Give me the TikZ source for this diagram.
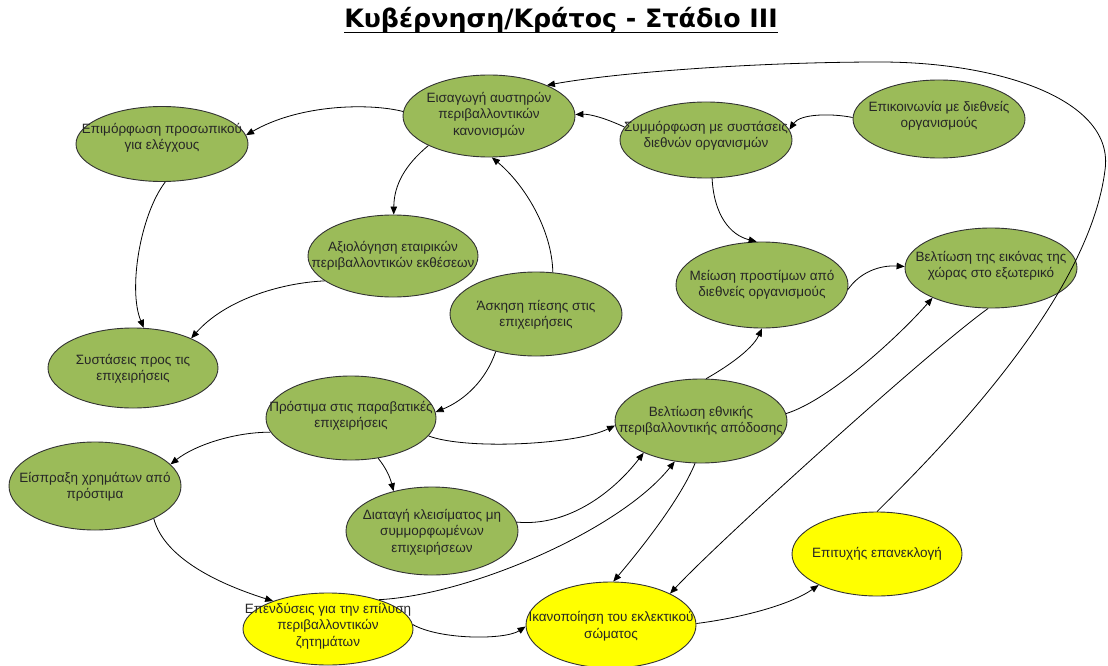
\documentclass[tikz,border=0pt]{standalone}
\usepackage{fontspec}
\setmainfont{Liberation Sans}
\newfontfamily\headfont{DejaVu Sans}
\usetikzlibrary{arrows.meta,shapes.geometric}
\definecolor{leaf}{RGB}{155,187,89}
\definecolor{sun}{RGB}{255,255,0}
\begin{document}
\begin{tikzpicture}[x=1pt,y=-1pt,
  bub/.style={ellipse, draw=black!80, line width=0.9pt, inner sep=0pt},
  gbub/.style={bub, fill=leaf},
  ybub/.style={bub, fill=sun},
  sz/.style 2 args={minimum width=#1pt, minimum height=#2pt},
  txt/.style={align=center, inner sep=0pt, text=black!85,
    font=\fontsize{13.5}{16.5}\selectfont},
  link/.style={line width=0.8pt, -{Triangle[length=8pt,width=6.5pt]}},
]
\useasboundingbox (0,0) rectangle (1108,666);
\fill[white] (0,0) rectangle (1108,666);

% title
\node[anchor=base, inner sep=0pt, font=\headfont\bfseries\fontsize{25.3}{30}\selectfont] (title) at (561,28) {Κυβέρνηση/Κράτος - Στάδιο III};
\draw[line width=1.8pt] ([yshift=-4.5pt]title.base west) -- ([yshift=-4.5pt]title.base east);

% green bubbles
\node[gbub,sz={172}{82}] (eisag) at (489,116) {};
\node[txt] (eisag-t) at (489,115) {Εισαγωγή αυστηρών\\περιβαλλοντικών\\κανονισμών};
\node[gbub,sz={172}{75}] (epim) at (162,144) {};
\node[txt] (epim-t) at (162,138) {Επιμόρφωση προσωπικού\\για ελέγχους};
\node[gbub,sz={170}{82}] (axiol) at (393,256) {};
\node[txt] (axiol-t) at (393,256) {Αξιολόγηση εταιρικών\\περιβαλλοντικών εκθέσεων};
\node[gbub,sz={170}{80}] (syst) at (133,368) {};
\node[txt] (syst-t) at (133,369) {Συστάσεις προς τις\\επιχειρήσεις};
\node[gbub,sz={172}{84}] (askisi) at (536,314) {};
\node[txt] (askisi-t) at (536,315) {Άσκηση πίεσης στις\\επιχειρήσεις};
\node[gbub,sz={172}{76}] (symm) at (706,140) {};
\node[txt] (symm-t) at (706,136) {Συμμόρφωση με συστάσεις\\διεθνών οργανισμών};
\node[gbub,sz={172}{78}] (epik) at (939,119) {};
\node[txt] (epik-t) at (939,116) {Επικοινωνία με διεθνείς\\οργανισμούς};
\node[gbub,sz={172}{86}] (meiosi) at (762,285) {};
\node[txt] (meiosi-t) at (762,285) {Μείωση προστίμων από\\διεθνείς οργανισμούς};
\node[gbub,sz={172}{80}] (veltikon) at (991,268) {};
\node[txt] (veltikon-t) at (991,266) {Βελτίωση της εικόνας της\\χώρας στο εξωτερικό};
\node[gbub,sz={170}{84}] (prost) at (351,418) {};
\node[txt] (prost-t) at (351,416) {Πρόστιμα στις παραβατικές\\επιχειρήσεις};
\node[gbub,sz={172}{88}] (eispr) at (95,486) {};
\node[txt] (eispr-t) at (95,487) {Είσπραξη χρημάτων από\\πρόστιμα};
\node[gbub,sz={172}{88}] (diatagi) at (432,531) {};
\node[txt] (diatagi-t) at (432,532) {Διαταγή κλεισίματος μη\\συμμορφωμένων\\επιχειρήσεων};
\node[gbub,sz={172}{84}] (veltethn) at (701,421) {};
\node[txt] (veltethn-t) at (701,421) {Βελτίωση εθνικής\\περιβαλλοντικής απόδοσης};

% yellow bubbles
\node[ybub,sz={170}{72}] (ependy) at (328,629) {};
\node[txt] (ependy-t) at (328,626) {Επενδύσεις για την επίλυση\\περιβαλλοντικών\\ζητημάτων};
\node[ybub,sz={170}{86}] (ikanop) at (611,625) {};
\node[txt] (ikanop-t) at (611,626) {Ικανοποίηση του εκλεκτικού\\σώματος};
\node[ybub,sz={170}{84}] (epitych) at (877,554) {};
\node[txt] (epitych-t) at (877,554) {Επιτυχής επανεκλογή};

% connectors
\draw[link] (eisag.177) .. controls (370,103) and (300,104) .. (epim.6);
\draw[link] (eisag.206) .. controls (405,165) and (394,185) .. (axiol.89);
\draw[link] (epim.275) .. controls (140,215) and (128,290) .. (syst.75);
\draw[link] (axiol.200) .. controls (280,283) and (225,300) .. (syst.27);
\draw[link] (askisi.68) .. controls (552,230) and (525,185) .. (eisag.274);
\draw[link] (symm.171) .. controls (605,118) and (590,114) .. (eisag.1);
\draw[link] (epik.179) .. controls (830,113) and (800,114) .. (symm.7);
\draw[link] (symm.279) .. controls (714,215) and (730,235) .. (meiosi.97);
\draw[link] (meiosi.357) .. controls (860,272) and (880,265) .. (veltikon.179);
\draw[link] (askisi.223) .. controls (486,380) and (465,400) .. (prost.4);
\draw[link] (prost.190) .. controls (235,432) and (195,445) .. (eispr.16);
\draw[link] (prost.304) .. controls (386,468) and (390,477) .. (diatagi.134);
\draw[link] (prost.347) .. controls (465,450) and (575,445) .. (veltethn.183);
\draw[link] (diatagi.6) .. controls (570,527) and (615,490) .. (veltethn.209);
\draw[link] (ependy.30) .. controls (470,595) and (620,530) .. (veltethn.237);
\draw[link] (eispr.331) .. controls (162,550) and (200,578) .. (ependy.153);
\draw[link] (ependy.3) .. controls (440,640) and (505,640) .. (ikanop.181);
\draw[link] (veltethn.262) .. controls (680,500) and (640,550) .. (ikanop.87);
\draw[link] (ikanop.1) .. controls (740,618) and (790,605) .. (epitych.208);
\draw[link] (veltethn.83) .. controls (725,368) and (752,350) .. (meiosi.270);
\draw[link] (veltethn.5) .. controls (830,400) and (900,335) .. (veltikon.207);
\draw[link] (veltikon.266) .. controls (930,350) and (720,540) .. (ikanop.28);
\draw[link] (epitych.90) .. controls (960,430) and (1090,290) .. (1105,170)
  .. controls (1115,100) and (1000,62) .. (880,62)
  .. controls (760,62) and (620,72) .. (eisag.28);
\end{tikzpicture}
\end{document}
